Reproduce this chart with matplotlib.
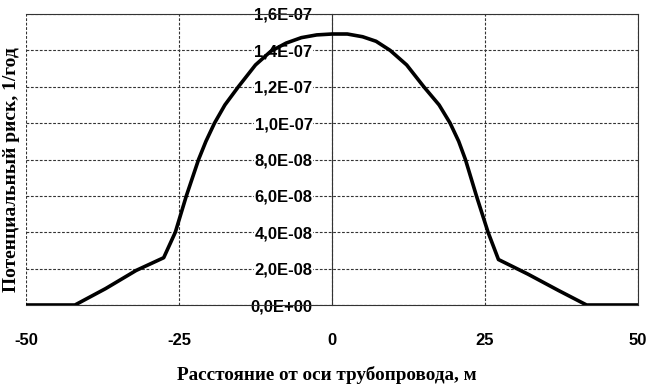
import numpy as np
import matplotlib
matplotlib.use('Agg')
import matplotlib.pyplot as plt

# distance from pipeline axis, m
dist = [-50, -42, -37, -32, -27.5, -25.6, -23.8, -21.8, -20.6, -19.2, -17.5, -15.3, -12.5, -10, -7.5,
        -5, -2.5, 0, 2.5, 5, 7.2, 9.5, 12.2, 15, 17.5, 19.3, 20.7, 21.8, 23.6, 25.5, 27.2, 32, 37, 41.6, 50]
# potential risk, 1/year
risk = [0, 0, 0.9e-8, 1.9e-8, 2.6e-8, 4.0e-8, 6.0e-8, 8.0e-8, 9.0e-8, 1.0e-7, 1.1e-7, 1.2e-7, 1.32e-7, 1.395e-7, 1.44e-7,
        1.47e-7, 1.485e-7, 1.49e-7, 1.49e-7, 1.475e-7, 1.45e-7, 1.4e-7, 1.32e-7, 1.2e-7, 1.1e-7, 1.0e-7, 9.0e-8, 8.0e-8,
        6.0e-8, 4.0e-8, 2.5e-8, 1.7e-8, 0.8e-8, 0, 0]

xticks = [-50, -25, 0, 25, 50]
yticks = [0, 2e-8, 4e-8, 6e-8, 8e-8, 1e-7, 1.2e-7, 1.4e-7, 1.6e-7]
ylabels = ['0,0E+00', '2,0E-08', '4,0E-08', '6,0E-08', '8,0E-08',
           '1,0E-07', '1,2E-07', '1,4E-07', '1,6E-07']

fig = plt.figure(figsize=(6.53, 3.89), dpi=100)
ax = fig.add_axes([26/653, 1-305/389, (638-26)/653, (305-14)/389])

ax.plot(dist, risk, color='black', lw=2.6, zorder=5, solid_joinstyle='round')

ax.set_xlim(-50, 50)
ax.set_ylim(0, 1.6e-7)
ax.set_xticks(xticks)
ax.set_xticklabels([str(v) for v in xticks])
ax.set_yticks(yticks)
ax.set_yticklabels(ylabels)

ax.spines['left'].set_position(('data', 0))
for s in ax.spines.values():
    s.set_linestyle((0, (2, 1)))
    s.set_linewidth(0.8)
    s.set_color('#333333')

ax.grid(True, color='#333333', linestyle=(0, (2.5, 1.5)), lw=0.8)
ax.tick_params(axis='both', length=0)
ax.tick_params(axis='y', pad=14)
ax.tick_params(axis='x', pad=20)
for t in ax.get_yticklabels():
    t.set_fontfamily('Liberation Sans')
    t.set_fontweight('bold')
    t.set_fontsize(12)
    t.set_bbox(dict(facecolor='white', edgecolor='none', pad=0.5))
    t.set_zorder(2)
for t in ax.get_xticklabels():
    t.set_fontfamily('Liberation Sans')
    t.set_fontweight('bold')
    t.set_fontsize(12)

fig.text(327/653, 1-375/389, 'Расстояние от оси трубопровода, м', ha='center', va='center',
         family='Liberation Serif', weight='bold', fontsize=13.8)
fig.text(12/653, 1-170/389, 'Потенциальный риск, 1/год', ha='center', va='center', rotation=90,
         family='Liberation Serif', weight='bold', fontsize=14)

fig.savefig('out.png', dpi=100)
